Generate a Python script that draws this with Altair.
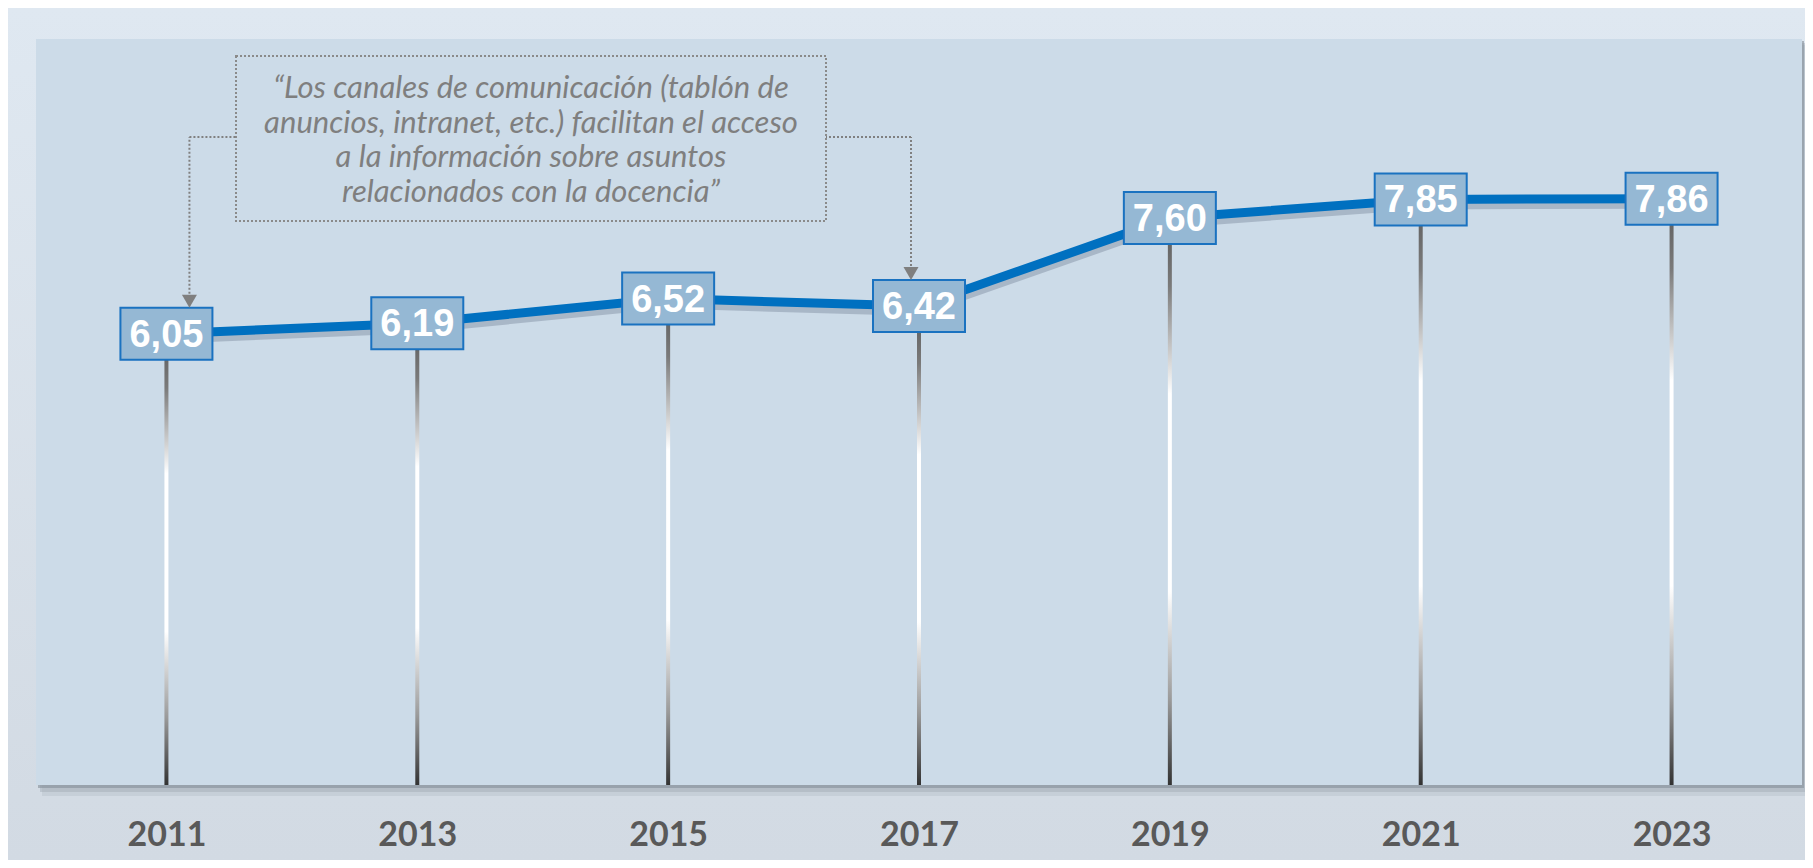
import altair as alt
import pandas as pd

# ---- data ----
years = [2011, 2013, 2015, 2017, 2019, 2021, 2023]
values = [6.05, 6.19, 6.52, 6.42, 7.60, 7.85, 7.86]
note_lines = [
    "\u201cLos canales de comunicaci\u00f3n (tabl\u00f3n de",
    "anuncios, intranet, etc.) facilitan el acceso",
    "a la informaci\u00f3n sobre asuntos",
    "relacionados con la docencia\u201d",
]

df = pd.DataFrame({"year": years, "value": values})
df["label"] = [f"{v:.2f}".replace(".", ",") for v in values]
one = pd.DataFrame({"k": [0]})

# ---- layout ----
W, H = 1766, 746
PAD = {"left": 28, "top": 31, "right": 3, "bottom": 75}

xs = alt.Scale(domain=[2010, 2024], nice=False, zero=False)
ys = alt.Scale(domain=[0, 10], nice=False, zero=True)
X = alt.X(
    "year:Q",
    scale=xs,
    axis=alt.Axis(
        values=years, format="d", title=None, domain=False, ticks=False,
        tickSize=0, grid=False, labelPadding=33, labelFont="Lato",
        labelFontWeight="bold", labelFontSize=34, labelColor="#595959",
        zindex=1, labelFlush=False, labelOverlap=False,
    ),
)
Y = alt.Y("value:Q", scale=ys, axis=None)

def vgrad(stops):
    return alt.Gradient(
        gradient="linear",
        stops=[alt.GradientStop(offset=o, color=c) for o, c in stops],
        x1=0, x2=0, y1=0, y2=1,
    )

outer = alt.Chart(one).mark_rect(
    color=vgrad([(0, "#dfe8f1"), (1, "#d2dae3")])
).encode(
    x=alt.value(-PAD["left"]), x2=alt.value(W + PAD["right"]),
    y=alt.value(-PAD["top"]), y2=alt.value(H + PAD["bottom"]),
)

shadow3 = alt.Chart(one).mark_rect(color="#a8b2bc", opacity=0.3).encode(
    x=alt.value(6), x2=alt.value(W + 6), y=alt.value(6), y2=alt.value(H + 11)
)
shadow2 = alt.Chart(one).mark_rect(color="#9aa4ae", opacity=0.4).encode(
    x=alt.value(4), x2=alt.value(W + 4), y=alt.value(4), y2=alt.value(H + 7)
)
shadow1 = alt.Chart(one).mark_rect(color="#86909a", opacity=0.6).encode(
    x=alt.value(2), x2=alt.value(W + 2), y=alt.value(2), y2=alt.value(H + 3)
)
plot_bg = alt.Chart(one).mark_rect(color="#ccdbe8").encode(
    x=alt.value(0), x2=alt.value(W), y=alt.value(0), y2=alt.value(H)
)

drops = alt.Chart(df).mark_bar(
    orient="vertical", width=4,
    color=vgrad([(0, "#5a5a5a"), (0.12, "#7a7a7a"), (0.31, "#ffffff"),
                 (0.66, "#ffffff"), (0.85, "#9a9a9a"), (1, "#333333")]),
).encode(x=X, y=Y, y2=alt.datum(0))

line_shadow = alt.Chart(df).mark_line(
    color="#55657a", strokeWidth=8, opacity=0.3, yOffset=6
).encode(x=X, y=Y)
line = alt.Chart(df).mark_line(color="#0070C0", strokeWidth=9).encode(x=X, y=Y)

BOX = "M-1,-0.565L1,-0.565L1,0.565L-1,0.565Z"
boxes = alt.Chart(df).mark_point(
    shape=BOX, size=92 * 92, filled=True, fill="#95b8d4", stroke="#1a72c0",
    strokeWidth=2, opacity=1, fillOpacity=1,
).encode(x=X, y=Y)

labels = alt.Chart(df).mark_text(
    font="Liberation Sans", fontWeight="bold", fontSize=38, color="white",
    baseline="alphabetic", align="center", dy=13,
).encode(x=X, y=Y, text="label:N")

note_box = alt.Chart(one).mark_rect(
    fillOpacity=0, stroke="#8a8a8a", strokeWidth=2, strokeDash=[2, 2]
).encode(x=alt.value(200), x2=alt.value(790), y=alt.value(17), y2=alt.value(182))

note_text = alt.Chart(one).mark_text(
    text=note_lines, font="Lato", fontStyle="italic", fontSize=31,
    color="#7f7f7f", align="center", baseline="alphabetic", lineHeight=34.5,
).encode(x=alt.value(495), y=alt.value(59))

DOT = dict(stroke="#808080", strokeWidth=2, strokeDash=[2, 2])

def connector(year, dx, edge_x):
    base = alt.Chart(df).transform_filter(alt.datum.year == year)
    vert = base.mark_rule(xOffset=dx, yOffset=-36, **DOT).encode(
        x=X, y=Y, y2=alt.value(98)
    )
    horiz = base.mark_rule(xOffset=dx, **DOT).encode(
        x=X, x2=alt.value(edge_x), y=alt.value(98)
    )
    head = base.mark_point(
        shape="triangle-down", size=225, filled=True, color="#7f7f7f",
        opacity=1, xOffset=dx, yOffset=-32.5,
    ).encode(x=X, y=Y)
    return [vert, horiz, head]

layers = [outer, shadow3, shadow2, shadow1, plot_bg, drops, line_shadow, line,
          boxes, labels, note_box, note_text]
layers += connector(2011, 23, 200)
layers += connector(2017, -8, 790)

chart = alt.layer(*layers).properties(
    width=W, height=H, padding=PAD,
    autosize=alt.AutoSizeParams(type="none"),
    background="#d9e2eb",
).configure_view(stroke=None)

chart.save("out.html", embed_options={"renderer": "svg", "actions": False})
